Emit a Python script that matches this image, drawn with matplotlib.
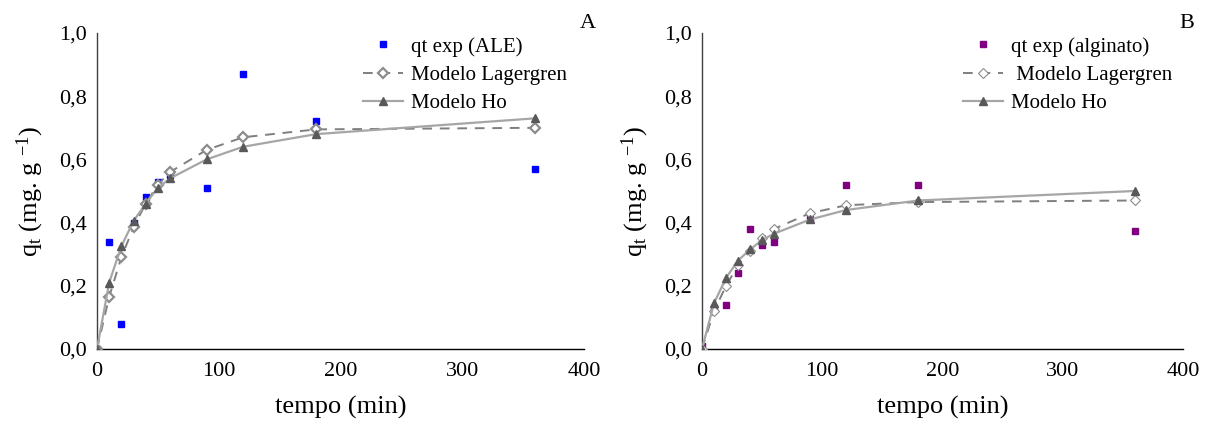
import numpy as np
import matplotlib
matplotlib.use("Agg")
import matplotlib.pyplot as plt

plt.rcParams["font.family"] = ["Liberation Serif", "DejaVu Serif"]
plt.rcParams["mathtext.fontset"] = "custom"
plt.rcParams["mathtext.rm"] = "Liberation Serif"
plt.rcParams["mathtext.it"] = "Liberation Serif:italic"

# tempos (min)
t_exp = [0, 10, 20, 30, 40, 50, 60, 90, 120, 180, 360]
t_mod = [0, 10, 20, 30, 40, 50, 60, 90, 120, 180, 360]

# A: ALE
qA_exp = [0.0, 0.34, 0.08, 0.40, 0.48, 0.53, 0.55, 0.51, 0.87, 0.72, 0.57]
qA_lag = [0.0, 0.165, 0.29, 0.385, 0.46, 0.52, 0.56, 0.63, 0.67, 0.695, 0.70]
qA_ho = [0.0, 0.21, 0.325, 0.405, 0.46, 0.51, 0.54, 0.60, 0.64, 0.68, 0.73]

# B: alginato
qB_exp = [0.01, 0.13, 0.14, 0.24, 0.38, 0.33, 0.34, 0.41, 0.52, 0.52, 0.375]
qB_lag = [0.0, 0.12, 0.20, 0.265, 0.31, 0.35, 0.38, 0.43, 0.455, 0.465, 0.47]
qB_ho = [0.0, 0.145, 0.225, 0.28, 0.315, 0.345, 0.365, 0.41, 0.44, 0.47, 0.50]

x_ticks = [0, 100, 200, 300, 400]
y_ticks = [0.0, 0.2, 0.4, 0.6, 0.8, 1.0]
y_tick_labels = ["0,0", "0,2", "0,4", "0,6", "0,8", "1,0"]

W, H = 1206, 425
fig = plt.figure(figsize=(W / 100, H / 100), dpi=100)

panels = [
    # left px, right px, dados, rotulo exp, cor, letra, rotulo Lagergren, borda do losango, x da legenda
    (97, 584, qA_exp, qA_lag, qA_ho, "qt exp (ALE)", "#0000FF", "A", "Modelo Lagergren", 1.6, 363),
    (702, 1183, qB_exp, qB_lag, qB_ho, "qt exp (alginato)", "#800080", "B", " Modelo Lagergren", 0.8, 963),
]

top_px, bot_px = 33, 349

for (l, r, q_exp, q_lag, q_ho, lab_exp, col, letter, lab_lag, lag_ew, leg_x) in panels:
    ax = fig.add_axes([l / W, 1 - bot_px / H, (r - l) / W, (bot_px - top_px) / H])

    ax.plot(t_exp, q_exp, linestyle="none", marker="s", markersize=5,
            color=col, label=lab_exp, zorder=2)
    ax.plot(t_mod, q_lag, linestyle=(0, (5, 4)), linewidth=1.4, color="#7f7f7f",
            marker="D", markersize=5.5, markerfacecolor="white",
            markeredgecolor="#8c8c8c", markeredgewidth=lag_ew,
            label=lab_lag, zorder=3)
    ax.plot(t_mod, q_ho, linestyle="-", linewidth=1.6, color="#a6a6a6",
            marker="^", markersize=6, markerfacecolor="#595959",
            markeredgecolor="#595959", label="Modelo Ho", zorder=4)

    ax.set_xlim(0, 400)
    ax.set_ylim(0, 1.0)
    ax.set_xticks(x_ticks)
    ax.set_yticks(y_ticks)
    ax.set_yticklabels(y_tick_labels)
    ax.tick_params(axis="both", length=0, labelsize=16)
    ax.tick_params(axis="y", pad=7)
    ax.tick_params(axis="x", pad=9)

    for s in ["top", "right"]:
        ax.spines[s].set_visible(False)
    ax.spines["left"].set_color("#404040")
    ax.spines["bottom"].set_color("black")
    ax.spines["left"].set_linewidth(1.0)
    ax.spines["bottom"].set_linewidth(1.0)

    ax.set_xlabel("tempo (min)", fontsize=19, labelpad=11)
    ax.set_ylabel(r"q$_\mathrm{t}$ (mg. g $^{\mathrm{-1}}$)", fontsize=19, labelpad=10)

    ax.legend(loc="upper left",
              bbox_to_anchor=((leg_x - l) / (r - l), (bot_px - 37) / (bot_px - top_px)),
              frameon=False, fontsize=15, handlelength=1.9, handletextpad=0.4,
              borderpad=0, borderaxespad=0, labelspacing=0.42)

    fig.text((r + 4) / W, 1 - 23 / H, letter, fontsize=16, ha="center", va="center")

plt.savefig("out.png", dpi=100)
plt.close()
